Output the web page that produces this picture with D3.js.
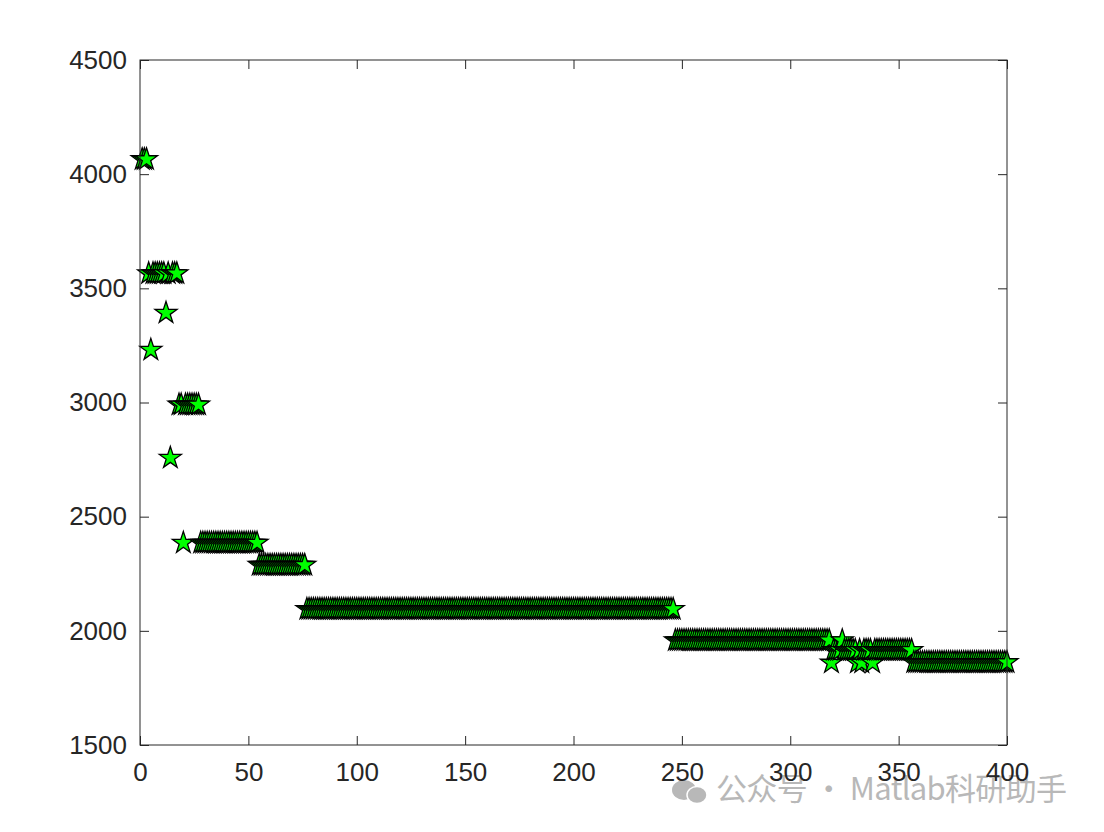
<!DOCTYPE html>
<html>
<head>
<meta charset="utf-8">
<script src="https://cdn.jsdelivr.net/npm/d3@7"></script>
<style>
  html, body { margin: 0; padding: 0; background: #ffffff; }
  svg { display: block; }
</style>
</head>
<body>
<div id="chart"></div>
<script>
// ---- Data ----
// Iterations are 1..400; values are given as constant runs [start, end, value].
const runStart = [1, 4, 5, 6, 12, 13, 14, 15, 18, 20, 21, 28, 55, 77, 247, 319, 320, 324, 325, 331, 332, 333, 334, 338, 339, 357];
const runEnd   = [3, 4, 5, 11, 12, 13, 14, 17, 19, 20, 27, 54, 76, 246, 318, 319, 323, 324, 330, 331, 332, 333, 337, 338, 356, 400];
const runValue = [4065, 3565, 3230, 3565, 3392, 3565, 2757, 3565, 2990, 2385, 2990, 2385, 2288, 2095, 1958, 1860, 1915, 1958, 1915, 1860, 1915, 1860, 1915, 1860, 1915, 1862];

const xTicks = [0, 50, 100, 150, 200, 250, 300, 350, 400];
const yTicks = [1500, 2000, 2500, 3000, 3500, 4000, 4500];
const watermarkText = "公众号 · Matlab科研助手";

(function () {
  // expand runs into points
  const points = [];
  runStart.forEach((s, i) => {
    for (let k = s; k <= runEnd[i]; k++) points.push({ x: k, y: runValue[i] });
  });

  // ---- Layout ----
  const W = 1104, H = 832;
  const mL = 140, mR = 1007, mT = 60, mB = 745;
  const tickLen = 9;
  const axisColor = "#262626";

  const svg = d3.select("#chart").append("svg").attr("width", W).attr("height", H);

  const x = d3.scaleLinear().domain([0, 400]).range([mL, mR]);
  const y = d3.scaleLinear().domain([1500, 4500]).range([mB, mT]);

  // watermark (behind everything)
  const wm = svg.append("g").attr("fill", "#b8b8b8");
  wm.append("ellipse").attr("cx", 684).attr("cy", 790).attr("rx", 12).attr("ry", 10);
  wm.append("ellipse").attr("cx", 697).attr("cy", 795).attr("rx", 10).attr("ry", 8.5).attr("stroke", "#ffffff").attr("stroke-width", 1.5);
  wm.append("text")
    .attr("x", 716).attr("y", 800)
    .attr("font-family", "'Noto Sans CJK SC', 'Noto Sans', sans-serif")
    .attr("font-size", 31)
    .attr("textLength", 351)
    .attr("lengthAdjust", "spacing")
    .text(watermarkText);

  // markers
  const star = d3.symbol().type(d3.symbolStar).size(150);
  svg.append("g")
    .selectAll("path")
    .data(points)
    .join("path")
    .attr("d", star)
    .attr("transform", d => `translate(${x(d.x)},${y(d.y)})`)
    .attr("fill", "#00ff00")
    .attr("stroke", "#000000")
    .attr("stroke-width", 1.3);

  // axes box
  const axisG = svg.append("g");
  axisG.append("rect")
    .attr("x", mL).attr("y", mT)
    .attr("width", mR - mL).attr("height", mB - mT)
    .attr("fill", "none").attr("stroke", axisColor).attr("stroke-width", 1);

  const fmt = d3.format("d");
  const xAxis = d3.axisBottom(x).tickValues(xTicks).tickFormat(fmt).tickSizeInner(-tickLen).tickSizeOuter(0).tickPadding(18);
  const gx = axisG.append("g").attr("transform", `translate(0,${mB})`).call(xAxis);
  const xTop = d3.axisTop(x).tickValues(xTicks).tickSizeInner(-tickLen).tickSizeOuter(0).tickFormat("");
  const gxt = axisG.append("g").attr("transform", `translate(0,${mT})`).call(xTop);

  const yAxis = d3.axisLeft(y).tickValues(yTicks).tickFormat(fmt).tickSizeInner(-tickLen).tickSizeOuter(0).tickPadding(13);
  const gy = axisG.append("g").attr("transform", `translate(${mL},0)`).call(yAxis);
  const yRight = d3.axisRight(y).tickValues(yTicks).tickSizeInner(-tickLen).tickSizeOuter(0).tickFormat("");
  const gyr = axisG.append("g").attr("transform", `translate(${mR},0)`).call(yRight);

  [gx, gxt, gy, gyr].forEach(g => {
    g.select(".domain").remove();
    g.selectAll(".tick line").attr("stroke", axisColor).attr("stroke-width", 1);
    g.selectAll("text")
      .attr("fill", axisColor)
      .attr("font-family", "'Liberation Sans', Arial, Helvetica, sans-serif")
      .attr("font-size", 26);
  });
  gx.selectAll("text").attr("dy", "0.71em");
})();
</script>
</body>
</html>
